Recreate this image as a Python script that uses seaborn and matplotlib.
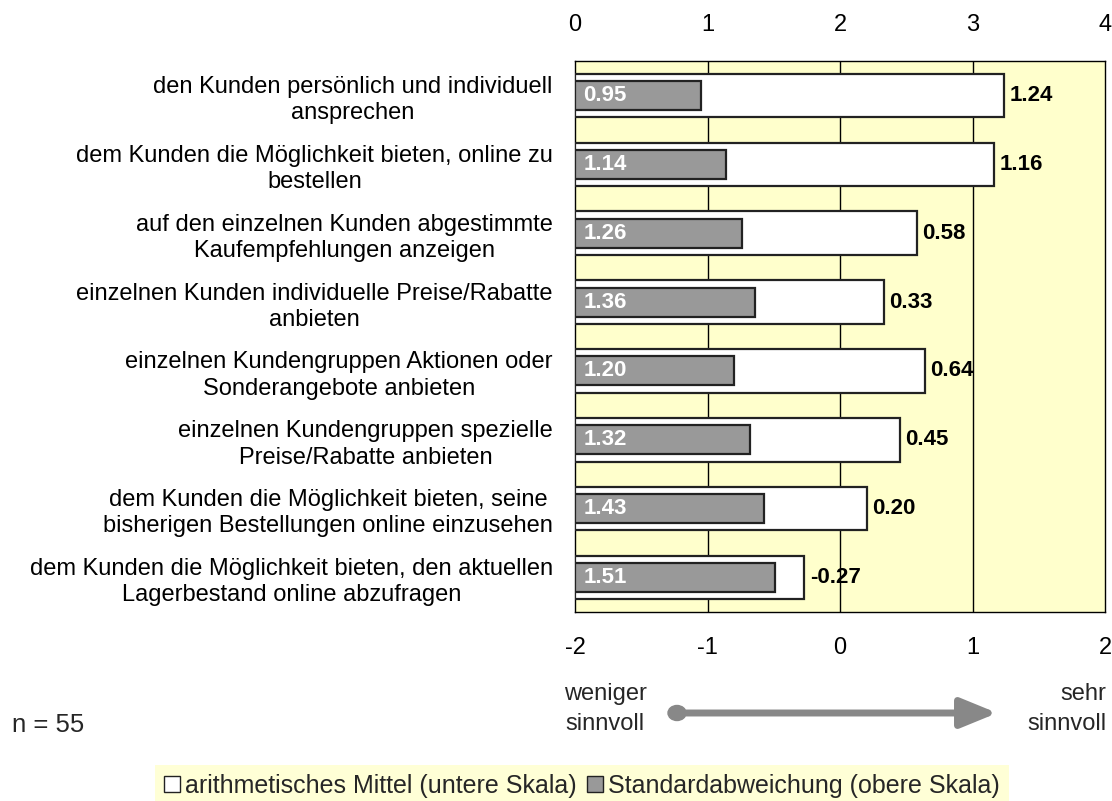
import matplotlib
matplotlib.use("Agg")
import matplotlib.pyplot as plt
import seaborn as sns
import pandas as pd
from matplotlib.patches import Patch, FancyArrowPatch, Ellipse

# Kategorien (von oben nach unten)
categories = [
    "den Kunden persönlich und individuell\nansprechen",
    "dem Kunden die Möglichkeit bieten, online zu\nbestellen",
    "auf den einzelnen Kunden abgestimmte\nKaufempfehlungen anzeigen",
    "einzelnen Kunden individuelle Preise/Rabatte\nanbieten",
    "einzelnen Kundengruppen Aktionen oder\nSonderangebote anbieten",
    "einzelnen Kundengruppen spezielle\nPreise/Rabatte anbieten",
    "dem Kunden die Möglichkeit bieten, seine\nbisherigen Bestellungen online einzusehen",
    "dem Kunden die Möglichkeit bieten, den aktuellen\nLagerbestand online abzufragen",
]
# arithmetisches Mittel (untere Skala -2..2)
means = [1.24, 1.16, 0.58, 0.33, 0.64, 0.45, 0.20, -0.27]
# Standardabweichung (obere Skala 0..4)
stds = [0.95, 1.14, 1.26, 1.36, 1.20, 1.32, 1.43, 1.51]

lower_ticks = [-2, -1, 0, 1, 2]
upper_ticks = [0, 1, 2, 3, 4]

df = pd.DataFrame({"Kategorie": categories, "Mittel": means, "Std": stds})
# untere Skala auf obere Skala umrechnen (obere = untere + 2)
df["Mittel_oben"] = df["Mittel"] + 2

sns.set_style("white")
plt.rcParams["font.family"] = ["Liberation Sans", "DejaVu Sans"]
plt.rcParams["axes.unicode_minus"] = False

fig = plt.figure(figsize=(11.12, 8.01), dpi=100)
ax = fig.add_axes([575 / 1112, 1 - 612 / 801, 530 / 1112, 551 / 801])
ax.set_facecolor("#FFFFCC")

# Mittelwert-Balken (weiß) und Standardabweichung (grau)
sns.barplot(data=df, x="Mittel_oben", y="Kategorie", color="white",
            edgecolor="#222222", linewidth=1.6, width=0.63, saturation=1,
            ax=ax, zorder=3)
sns.barplot(data=df, x="Std", y="Kategorie", color="#999999",
            edgecolor="#222222", linewidth=1.6, width=0.42, saturation=1,
            ax=ax, zorder=4)

ax.set_xlim(0, 4)
ax.set_xticks(upper_ticks)
ax.xaxis.tick_top()
ax.tick_params(axis="x", length=0, pad=18, labelsize=17, labelcolor="black")
ax.set_xlabel("")
ax.set_ylabel("")
for x in [1, 2, 3]:
    ax.axvline(x, color="black", linewidth=1, zorder=1)
for sp in ax.spines.values():
    sp.set_color("black")
    sp.set_linewidth(1)

ax.tick_params(axis="y", length=0, pad=16, labelsize=17, labelcolor="black")
for lab in ax.get_yticklabels():
    lab.set_multialignment("center")
    lab.set_linespacing(1.25)

# untere Skala
sec = ax.secondary_xaxis("bottom", functions=(lambda v: v - 2, lambda v: v + 2))
sec.set_xticks(lower_ticks)
sec.tick_params(length=0, pad=18, labelsize=17, labelcolor="black")
sec.spines["bottom"].set_visible(False)

# Werte beschriften
for i, (m, s) in enumerate(zip(df["Mittel_oben"], df["Std"])):
    ax.annotate(f"{s:.2f}", (0, i), xytext=(6, 0), textcoords="offset points",
                color="white", fontweight="bold", fontsize=16, va="center",
                zorder=5)
    ax.annotate(f"{m - 2:.2f}", (m, i), xytext=(4, 0),
                textcoords="offset points", color="black", fontweight="bold",
                fontsize=16, va="center", zorder=5)

# Pfeil unter der Skala
fig.text(605 / 1112, 1 - 709 / 801, "weniger\nsinnvoll", ha="center",
         va="center", fontsize=17, linespacing=1.45)
fig.text(1106 / 1112, 1 - 709 / 801, "sehr\nsinnvoll", ha="right",
         va="center", fontsize=17, linespacing=1.45, multialignment="right")
arrow_y = 1 - 713 / 801
fig.add_artist(FancyArrowPatch(
    (677 / 1112, arrow_y), (1000 / 1112, arrow_y), transform=fig.transFigure,
    arrowstyle="-|>,head_length=22,head_width=9", mutation_scale=1,
    color="#888888", linewidth=5))
fig.add_artist(Ellipse((677 / 1112, arrow_y), 18 / 1112, 15 / 801,
                       color="#888888", transform=fig.transFigure))

fig.text(12 / 1112, 1 - 725 / 801, "n = 55", ha="left", va="center",
         fontsize=18.5)

# Legende
handles = [Patch(facecolor="white", edgecolor="#222222"),
           Patch(facecolor="#999999", edgecolor="#222222")]
leg = fig.legend(handles, ["arithmetisches Mittel (untere Skala)",
                           "Standardabweichung (obere Skala)"],
                 loc="upper center", bbox_to_anchor=(582 / 1112, 1 - 765 / 801),
                 ncol=2, fontsize=18, frameon=True, fancybox=False,
                 handlelength=0.65, handleheight=0.65, handletextpad=0.2,
                 columnspacing=0.4, borderpad=0.35, borderaxespad=0)
leg.get_frame().set_facecolor("#FFFFCC")
leg.get_frame().set_edgecolor("none")

fig.savefig("out.png", dpi=100)
